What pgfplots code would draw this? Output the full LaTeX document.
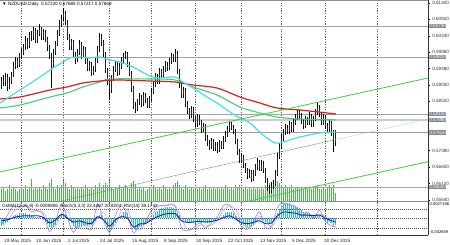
\documentclass[border=0pt]{standalone}
\usepackage{pgfplots}
\pgfplotsset{compat=1.18}
\usepackage{pgfplotstable}
\usepackage{fontspec}
\setmainfont{Liberation Sans}

\definecolor{maCyan}{RGB}{70,222,236}
\definecolor{maRed}{RGB}{222,30,30}
\definecolor{maGreen}{RGB}{64,206,128}
\definecolor{trendLime}{RGB}{52,214,52}
\definecolor{trendDark}{RGB}{46,140,46}
\definecolor{trendLight}{RGB}{120,230,120}
\definecolor{volGreen}{RGB}{70,185,70}
\definecolor{osmaCyan}{RGB}{30,190,235}
\definecolor{stochLine}{RGB}{150,110,230}
\definecolor{rsiLine}{RGB}{20,40,170}
\definecolor{levelGray}{RGB}{160,164,168}
\definecolor{boxGray}{RGB}{128,136,146}
\definecolor{gridGray}{RGB}{90,90,90}

\newcommand\chartfont{\fontsize{4.6}{5}\selectfont}
\newcommand\smallchartfont{\fontsize{4.1}{4.5}\selectfont}

% daily bars: index, open, high, low, close, tick volume, OsMA
\pgfplotstableread{
i o h l c v m
0 0.5900 0.5925 0.5888 0.5915 6 -0.0012
1 0.5915 0.5928 0.5896 0.5905 7 -0.0010
2 0.5905 0.5934 0.5897 0.5925 5 -0.0007
3 0.5925 0.5931 0.5884 0.5895 6 -0.0005
4 0.5895 0.5922 0.5889 0.5910 8 -0.0002
5 0.5910 0.5938 0.5904 0.5930 6 0.0001
6 0.5930 0.5966 0.5925 0.5955 7 0.0004
7 0.5955 0.5981 0.5948 0.5970 6 0.0006
8 0.5970 0.5979 0.5951 0.5960 5 0.0006
9 0.5960 0.5994 0.5954 0.5985 6 0.0008
10 0.5985 0.6008 0.5976 0.5995 7 0.0008
11 0.5995 0.6021 0.5988 0.6010 6 0.0008
12 0.6010 0.6042 0.6003 0.6030 8 0.0008
13 0.6030 0.6037 0.6006 0.6015 6 0.0006
14 0.6015 0.6056 0.6009 0.6045 7 0.0007
15 0.6045 0.6058 0.6028 0.6040 11 0.0005
16 0.6040 0.6071 0.6033 0.6060 6 0.0005
17 0.6060 0.6066 0.6022 0.6030 7 0.0002
18 0.6030 0.6060 0.6024 0.6050 6 0.0002
19 0.6050 0.6078 0.6043 0.6065 7 0.0003
20 0.6065 0.6070 0.6031 0.6040 6 0.0000
21 0.6040 0.6064 0.6032 0.6055 8 -0.0002
22 0.6055 0.6061 0.6026 0.6035 7 -0.0005
23 0.6035 0.6042 0.6001 0.6010 6 -0.0009
24 0.6010 0.6016 0.5975 0.5985 9 -0.0013
25 0.5985 0.5993 0.5890 0.5960 11 -0.0016
26 0.5960 0.6004 0.5952 0.5995 7 -0.0014
27 0.5995 0.6030 0.5988 0.6020 6 -0.0010
28 0.6020 0.6061 0.6014 0.6050 8 -0.0004
29 0.6050 0.6090 0.6043 0.6080 7 0.0002
30 0.6080 0.6106 0.6071 0.6095 8 0.0006
31 0.6095 0.6125 0.6086 0.6110 10 0.0009
32 0.6110 0.6117 0.6076 0.6085 9 0.0007
33 0.6085 0.6091 0.6031 0.6040 7 0.0002
34 0.6040 0.6048 0.6001 0.6010 6 -0.0004
35 0.6010 0.6036 0.6002 0.6025 8 -0.0008
36 0.6025 0.6031 0.5982 0.5990 7 -0.0012
37 0.5990 0.5998 0.5963 0.5975 6 -0.0015
38 0.5975 0.6005 0.5968 0.5995 7 -0.0016
39 0.5995 0.6031 0.5989 0.6020 6 -0.0014
40 0.6020 0.6027 0.5977 0.5985 7 -0.0014
41 0.5985 0.6014 0.5978 0.6005 6 -0.0011
42 0.6005 0.6011 0.5962 0.5970 8 -0.0011
43 0.5970 0.5978 0.5941 0.5950 7 -0.0012
44 0.5950 0.5971 0.5942 0.5960 6 -0.0010
45 0.5960 0.5966 0.5926 0.5935 7 -0.0010
46 0.5935 0.5955 0.5928 0.5945 6 -0.0008
47 0.5945 0.5980 0.5939 0.5970 8 -0.0004
48 0.5970 0.6014 0.5963 0.6005 7 0.0002
49 0.6005 0.6051 0.5998 0.6040 9 0.0006
50 0.6040 0.6049 0.6015 0.6025 7 0.0005
51 0.6025 0.6031 0.5981 0.5990 8 0.0000
52 0.5990 0.5996 0.5936 0.5945 9 -0.0008
53 0.5945 0.5951 0.5901 0.5910 8 -0.0015
54 0.5910 0.5917 0.5856 0.5885 10 -0.0020
55 0.5885 0.5929 0.5878 0.5920 7 -0.0019
56 0.5920 0.5955 0.5913 0.5945 6 -0.0014
57 0.5945 0.5970 0.5937 0.5960 7 -0.0008
58 0.5960 0.5967 0.5927 0.5935 6 -0.0003
59 0.5935 0.5965 0.5929 0.5955 8 0.0002
60 0.5955 0.5981 0.5948 0.5970 6 0.0006
61 0.5970 0.5994 0.5963 0.5985 7 0.0010
62 0.5985 0.6000 0.5976 0.5990 8 0.0011
63 0.5990 0.5996 0.5952 0.5960 7 0.0008
64 0.5960 0.5967 0.5927 0.5935 6 0.0002
65 0.5935 0.5941 0.5881 0.5890 9 -0.0006
66 0.5890 0.5897 0.5830 0.5840 10 -0.0014
67 0.5840 0.5849 0.5818 0.5830 8 -0.0018
68 0.5830 0.5860 0.5823 0.5850 6 -0.0017
69 0.5850 0.5876 0.5843 0.5865 7 -0.0014
70 0.5865 0.5872 0.5837 0.5845 6 -0.0013
71 0.5845 0.5879 0.5839 0.5870 7 -0.0010
72 0.5870 0.5877 0.5847 0.5855 5 -0.0009
73 0.5855 0.5862 0.5832 0.5840 6 -0.0008
74 0.5840 0.5869 0.5833 0.5860 7 -0.0005
75 0.5860 0.5890 0.5853 0.5880 6 0.0000
76 0.5880 0.5911 0.5873 0.5900 8 0.0005
77 0.5900 0.5935 0.5894 0.5925 7 0.0010
78 0.5925 0.5932 0.5902 0.5910 6 0.0012
79 0.5910 0.5951 0.5904 0.5940 7 0.0015
80 0.5940 0.5948 0.5921 0.5930 6 0.0016
81 0.5930 0.5955 0.5923 0.5945 8 0.0017
82 0.5945 0.5970 0.5938 0.5960 7 0.0019
83 0.5960 0.5968 0.5941 0.5950 6 0.0018
84 0.5950 0.5980 0.5944 0.5970 7 0.0019
85 0.5970 0.5995 0.5963 0.5985 6 0.0018
86 0.5985 0.5992 0.5966 0.5975 8 0.0016
87 0.5975 0.6005 0.5968 0.5995 9 0.0015
88 0.5995 0.6000 0.5932 0.5940 10 0.0010
89 0.5940 0.5947 0.5891 0.5900 8 0.0005
90 0.5900 0.5907 0.5861 0.5870 7 0.0000
91 0.5870 0.5895 0.5863 0.5885 6 -0.0002
92 0.5885 0.5891 0.5836 0.5845 8 -0.0005
93 0.5845 0.5852 0.5816 0.5825 7 -0.0007
94 0.5825 0.5833 0.5801 0.5810 6 -0.0008
95 0.5810 0.5840 0.5803 0.5830 7 -0.0007
96 0.5830 0.5836 0.5792 0.5800 6 -0.0008
97 0.5800 0.5808 0.5776 0.5785 7 -0.0008
98 0.5785 0.5815 0.5778 0.5805 6 -0.0006
99 0.5805 0.5812 0.5782 0.5790 7 -0.0006
100 0.5790 0.5797 0.5761 0.5770 6 -0.0007
101 0.5770 0.5790 0.5763 0.5780 7 -0.0005
102 0.5780 0.5786 0.5737 0.5745 8 -0.0007
103 0.5745 0.5753 0.5721 0.5730 6 -0.0008
104 0.5730 0.5738 0.5711 0.5720 7 -0.0008
105 0.5720 0.5745 0.5713 0.5735 6 -0.0006
106 0.5735 0.5741 0.5706 0.5715 7 -0.0004
107 0.5715 0.5734 0.5708 0.5725 6 -0.0002
108 0.5725 0.5732 0.5701 0.5710 7 -0.0001
109 0.5710 0.5740 0.5704 0.5730 6 0.0002
110 0.5730 0.5737 0.5712 0.5720 7 0.0003
111 0.5720 0.5750 0.5714 0.5740 6 0.0005
112 0.5740 0.5765 0.5733 0.5755 8 0.0008
113 0.5755 0.5781 0.5748 0.5770 7 0.0010
114 0.5770 0.5795 0.5763 0.5785 6 0.0011
115 0.5785 0.5792 0.5767 0.5775 7 0.0010
116 0.5775 0.5783 0.5756 0.5765 6 0.0008
117 0.5765 0.5771 0.5727 0.5735 8 0.0004
118 0.5735 0.5741 0.5696 0.5705 7 -0.0001
119 0.5705 0.5712 0.5671 0.5680 8 -0.0005
120 0.5680 0.5700 0.5673 0.5690 7 -0.0007
121 0.5690 0.5696 0.5657 0.5665 6 -0.0010
122 0.5665 0.5672 0.5642 0.5650 7 -0.0012
123 0.5650 0.5658 0.5626 0.5635 6 -0.0013
124 0.5635 0.5655 0.5628 0.5645 7 -0.0012
125 0.5645 0.5651 0.5617 0.5625 6 -0.0012
126 0.5625 0.5650 0.5619 0.5640 7 -0.0010
127 0.5640 0.5670 0.5633 0.5660 6 -0.0007
128 0.5660 0.5685 0.5652 0.5675 7 -0.0004
129 0.5675 0.5682 0.5647 0.5655 6 -0.0003
130 0.5655 0.5680 0.5649 0.5670 7 -0.0002
131 0.5670 0.5677 0.5642 0.5650 6 -0.0003
132 0.5650 0.5656 0.5612 0.5620 8 -0.0005
133 0.5620 0.5628 0.5591 0.5600 8 -0.0007
134 0.5600 0.5608 0.5580 0.5590 9 -0.0008
135 0.5590 0.5615 0.5584 0.5605 7 -0.0006
136 0.5605 0.5621 0.5597 0.5610 8 -0.0004
137 0.5610 0.5650 0.5604 0.5640 9 0.0000
138 0.5640 0.5700 0.5634 0.5690 10 0.0008
139 0.5690 0.5731 0.5683 0.5720 9 0.0015
140 0.5720 0.5756 0.5713 0.5745 8 0.0021
141 0.5745 0.5771 0.5737 0.5760 7 0.0024
142 0.5760 0.5786 0.5753 0.5775 8 0.0025
143 0.5775 0.5783 0.5757 0.5765 7 0.0024
144 0.5765 0.5795 0.5758 0.5785 7 0.0024
145 0.5785 0.5792 0.5762 0.5770 8 0.0022
146 0.5770 0.5800 0.5763 0.5790 6 0.0021
147 0.5790 0.5816 0.5783 0.5805 7 0.0020
148 0.5805 0.5830 0.5798 0.5820 7 0.0019
149 0.5820 0.5827 0.5802 0.5810 6 0.0017
150 0.5810 0.5817 0.5787 0.5795 7 0.0014
151 0.5795 0.5802 0.5772 0.5780 6 0.0011
152 0.5780 0.5810 0.5774 0.5800 7 0.0010
153 0.5800 0.5807 0.5782 0.5790 6 0.0008
154 0.5790 0.5820 0.5784 0.5810 7 0.0008
155 0.5810 0.5816 0.5777 0.5785 6 0.0005
156 0.5785 0.5810 0.5778 0.5800 7 0.0004
157 0.5800 0.5830 0.5794 0.5820 7 0.0005
158 0.5820 0.5850 0.5813 0.5835 8 0.0006
159 0.5835 0.5842 0.5807 0.5815 6 0.0004
160 0.5815 0.5821 0.5782 0.5790 6 0.0000
161 0.5790 0.5815 0.5783 0.5805 7 -0.0002
162 0.5805 0.5811 0.5772 0.5780 6 -0.0005
163 0.5780 0.5788 0.5762 0.5770 7 -0.0007
164 0.5770 0.5800 0.5764 0.5790 8 -0.0006
165 0.5790 0.5796 0.5752 0.5760 7 -0.0008
166 0.5760 0.5767 0.5705 0.5730 8 -0.0010
167 0.5730 0.5768 0.5722 0.5761 4 -0.0010
}\bars

% oscillators sampled every third bar: stochastic %K, %D and RSI (0-100)
\pgfplotstableread{
i k d r
0 30 40 42
3 60 45 45
6 88 70 52
9 85 85 56
12 90 87 58
15 70 80 57
18 75 72 58
21 60 68 52
24 8 35 35
27 40 25 45
30 95 65 62
33 50 75 50
36 5 30 38
39 40 20 42
42 25 32 36
45 15 22 33
48 95 50 55
51 45 70 45
54 5 30 25
57 60 30 45
60 90 75 55
63 60 78 50
66 3 30 22
69 30 12 32
72 40 35 33
75 75 58 45
78 92 85 55
81 88 90 62
84 95 91 65
87 85 90 64
90 20 50 42
93 10 15 37
96 20 15 38
99 35 28 40
102 20 28 38
105 35 28 40
108 55 45 44
111 90 75 52
114 92 90 58
117 60 78 48
120 25 40 36
123 15 20 33
126 40 28 37
129 70 55 42
132 20 45 33
135 25 22 35
138 85 55 58
141 98 92 70
144 90 94 68
147 85 88 66
150 55 70 60
153 70 62 60
156 50 60 58
159 75 63 60
162 40 55 50
165 25 32 42
167 22.4 20.8 38.2
}\osc

% moving averages
\pgfplotstableread{
i p
-0.75 0.58473
9.25 0.58854
19.25 0.59234
24.25 0.59439
30.75 0.59673
34.25 0.59790
39.25 0.59820
44.25 0.59790
49.25 0.59820
54.25 0.59732
59.25 0.59673
65.75 0.59527
74.25 0.59264
79.25 0.59205
86.75 0.59234
90.75 0.59088
95.75 0.58912
102.75 0.58649
107.75 0.58473
114.25 0.58210
119.25 0.58034
124.25 0.57888
130.75 0.57537
136.75 0.57303
140.75 0.57332
149.25 0.57479
159.25 0.57596
167.25 0.57625
}\maFast

\pgfplotstableread{
i p
-0.75 0.58591
9.25 0.58649
24.25 0.58854
32.75 0.58942
40.75 0.59059
49.25 0.59117
57.75 0.59147
74.25 0.59117
86.75 0.59088
95.75 0.59000
107.75 0.58912
119.25 0.58649
129.25 0.58473
137.75 0.58327
149.25 0.58268
167.25 0.58151
}\maSlow

\pgfplotstableread{
i p
-0.75 0.58327
9.25 0.58415
24.25 0.58649
32.75 0.58766
40.75 0.58942
49.25 0.59088
54.25 0.59176
74.25 0.59176
86.75 0.59147
95.75 0.58942
107.75 0.58708
119.25 0.58356
129.25 0.58180
137.75 0.58064
149.25 0.58005
167.25 0.57980
}\maMid

\pgfplotsset{
  panel/.style={scale only axis, width=428pt, xmin=-0.75, xmax=213.25,
    axis line style={draw=none}},
  monthgrid/.style={xtick={10,31,54,75,97,120,140,162,188}, xticklabels={},
    xtick style={draw=none}, xmajorgrids,
    major x grid style={gridGray, line width=0.35pt, dash pattern=on 1.3pt off 1.3pt}},
}

\begin{document}
\begin{tikzpicture}
\useasboundingbox (0pt,0pt) rectangle (450pt,245pt);
\fill[white] (0pt,0pt) rectangle (450pt,245pt);

% price panel
\begin{axis}[panel, monthgrid, anchor=south west, at={(0pt,43.5pt)}, height=201.5pt,
  ymin=0.55591, ymax=0.61488,
  ytick={0.5564,0.5612,0.5660,0.5708,0.5852,0.5900,0.5948,0.5996,0.6044,0.6092,0.6140},
  ytick pos=right, yticklabel pos=right, tick align=outside,
  major tick length=2pt, ytick style={black, line width=0.35pt},
  yticklabel style={font=\chartfont, anchor=west, xshift=-1.2pt, text=black!80},
  extra y ticks={0.6073,0.5982,0.5815,0.5798,0.5761,0.5602},
  extra y tick style={yticklabel style={fill=boxGray, text=white, inner sep=0.4pt}},
  /pgf/number format/.cd, fixed, fixed zerofill, precision=5, assume math mode=true]

  % tick volume along the bottom of the panel
  \addplot[draw=none, mark=none, forget plot,
    error bars/.cd, y dir=both, y explicit, error mark=none,
    error bar style={draw=volGreen, line width=0.75pt}]
    table[x=i, y expr={0.55591+\thisrow{v}*0.000295},
      y error expr={\thisrow{v}*0.000295}]{\bars};

  % horizontal levels
  \addplot[levelGray, line width=0.5pt] coordinates {(-0.75,0.6073) (213.25,0.6073)};
  \addplot[levelGray, line width=0.5pt] coordinates {(-0.75,0.5982) (213.25,0.5982)};
  \addplot[levelGray, line width=0.5pt] coordinates {(-0.75,0.5815) (213.25,0.5815)};
  \addplot[black!20, line width=1.6pt] coordinates {(-0.75,0.5798) (213.25,0.5798)};
  \addplot[black!38, line width=1.6pt] coordinates {(-0.75,0.5761) (213.25,0.5761)};
  \addplot[levelGray, line width=0.5pt] coordinates {(-0.75,0.5602) (213.25,0.5602)};

  % candles: wicks and bodies
  \addplot[draw=none, mark=none, forget plot,
    error bars/.cd, y dir=both, y explicit, error mark=none,
    error bar style={draw=black, line width=0.4pt}]
    table[x=i, y expr={(\thisrow{h}+\thisrow{l})/2},
      y error expr={(\thisrow{h}-\thisrow{l})/2}]{\bars};
  \addplot[draw=none, mark=none, forget plot,
    error bars/.cd, y dir=both, y explicit, error mark=none,
    error bar style={draw=black!85, line width=1.25pt}]
    table[x=i, y expr={(\thisrow{o}+\thisrow{c})/2},
      y error expr={abs(\thisrow{o}-\thisrow{c})/2}]{\bars};

  % moving averages
  \addplot[maGreen, line width=1.1pt, smooth, tension=0.5] table[x=i,y=p]{\maMid};
  \addplot[maRed, line width=1.2pt, smooth, tension=0.5] table[x=i,y=p]{\maSlow};
  \addplot[maCyan, line width=1.2pt, smooth, tension=0.5] table[x=i,y=p]{\maFast};

  % channel lines
  \addplot[trendLime, line width=0.8pt] coordinates {(-0.75,0.56454) (213.25,0.59205)};
  \addplot[trendDark, line width=0.45pt, dash pattern=on 1pt off 0.6pt]
    coordinates {(27.75,0.55576) (166.75,0.57397)};
  \addplot[trendLight, line width=0.5pt, dash pattern=on 1pt off 1pt]
    coordinates {(166.75,0.57397) (213.25,0.58005)};
  \addplot[trendLime, line width=0.8pt] coordinates {(122.75,0.55591) (213.25,0.56756)};
\end{axis}

% oscillator panel: OsMA histogram, stochastic and RSI (0-100 mapped onto the OsMA scale)
\begin{axis}[panel, monthgrid, anchor=south west, at={(0pt,10pt)}, height=33.5pt,
  ymin=-0.002659, ymax=0.0027186, ytick=\empty,
  extra x ticks={0,16,32,48,64,80,96,112,128,144,160},
  extra x tick labels={19 May 2025,10 Jun 2025,2 Jul 2025,24 Jul 2025,15 Aug 2025,8 Sep 2025,30 Sep 2025,22 Oct 2025,13 Nov 2025,5 Dec 2025,30 Dec 2025},
  extra x tick style={grid=none, tick align=outside, major tick length=1.5pt,
    tick style={draw=black, line width=0.35pt},
    xticklabel style={font=\chartfont, anchor=north west, xshift=-0.8pt, yshift=0.5pt, text=black!85}}]
  \addplot[osmaCyan, ycomb, line width=1.05pt] table[x=i,y=m]{\bars};
  \addplot[gridGray, line width=0.3pt, dash pattern=on 1pt off 1pt] coordinates {(-0.75,0.0015516) (213.25,0.0015516)};
  \addplot[gridGray, line width=0.3pt, dash pattern=on 1pt off 1pt] coordinates {(-0.75,0.0000297) (213.25,0.0000297)};
  \addplot[gridGray, line width=0.3pt, dash pattern=on 1pt off 1pt] coordinates {(-0.75,-0.0014922) (213.25,-0.0014922)};
  \addplot[stochLine!75, line width=0.4pt, smooth, tension=0.5]
    table[x=i, y expr={-0.002659+(\thisrow{d}+3)*0.00005073}]{\osc};
  \addplot[stochLine, line width=0.5pt, smooth, tension=0.5]
    table[x=i, y expr={-0.002659+(\thisrow{k}+3)*0.00005073}]{\osc};
  \addplot[rsiLine, line width=0.9pt, smooth, tension=0.5]
    table[x=i, y expr={-0.002659+(\thisrow{r}+3)*0.00005073}]{\osc};
\end{axis}

% window frame
\draw[black!45, line width=0.5pt] (0pt,244.7pt) -- (428pt,244.7pt);
\draw[black!45, line width=0.6pt] (0pt,43.5pt) -- (428pt,43.5pt);
\draw[black!80, line width=0.5pt] (0pt,10pt) -- (428pt,10pt);
\draw[black!80, line width=0.5pt] (428pt,10pt) -- (428pt,245pt);

% window captions
\node[anchor=west, font=\chartfont, inner sep=0pt] at (2pt,240.5pt)
  {▼ NZDUSD,Daily\ \ 0.57220 0.57685 0.57217 0.57669};
\node[anchor=west, font=\chartfont, inner sep=0pt] at (2pt,38.5pt)
  {OsMA(12,26,9) -0.0009806\ \ Stoch(5,3,3) 22.4467 20.8204\ \ RSI(14) 38.1742};
\node[anchor=west, font=\smallchartfont, inner sep=0pt] at (429.5pt,41.3pt) {0.0027186};
\node[anchor=west, font=\smallchartfont, inner sep=0pt] at (429.5pt,12.5pt) {-0.002659};
\end{tikzpicture}
\end{document}
